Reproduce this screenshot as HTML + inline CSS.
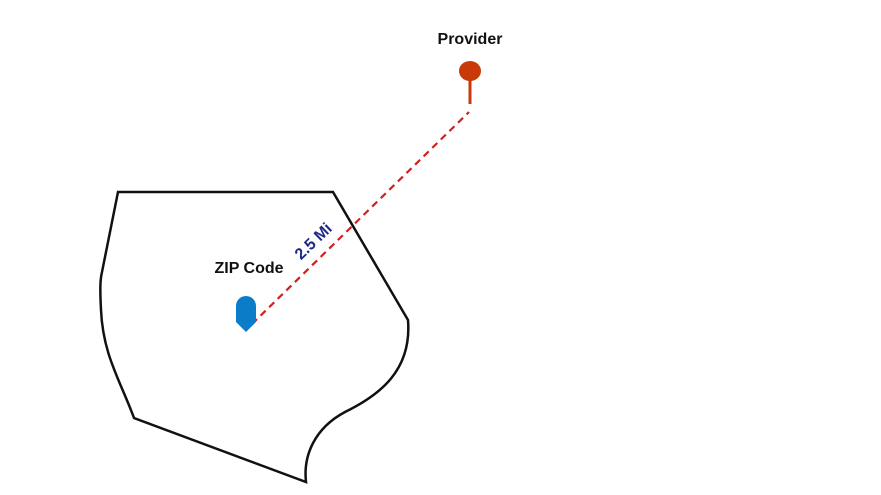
<!DOCTYPE html>
<html><head><style>body{margin:0;background:#fff}svg{display:block}</style></head><body>
<svg width="881" height="495" viewBox="0 0 881 495" xmlns="http://www.w3.org/2000/svg">
<path d="M118,192 L333,192 L408,320 C412,370 380,395 345,412 C315,428 303,455 306,482 L134,418 C120,380 103,355 101,310 C100,290 100,280 102,272 Z" fill="none" stroke="#111" stroke-width="2.5"/>
<line x1="252" y1="324" x2="469" y2="112" stroke="#d02020" stroke-width="2.2" stroke-dasharray="7,5"/>
<path d="M236,306 A10,10 0 0 1 256,306 L256,322 L246,332 L236,322 Z" fill="#0a7cc8"/>
<line x1="470" y1="78" x2="470" y2="104" stroke="#c83a0a" stroke-width="3"/>
<ellipse cx="470" cy="71" rx="11" ry="10" fill="#c83a0a"/>
<text x="470" y="44" font-family="Liberation Sans, sans-serif" font-weight="bold" font-size="16" text-anchor="middle" fill="#111">Provider</text>
<text x="249" y="273" font-family="Liberation Sans, sans-serif" font-weight="bold" font-size="16" text-anchor="middle" fill="#111">ZIP Code</text>
<text transform="translate(317,245) rotate(-44)" font-family="Liberation Sans, sans-serif" font-weight="bold" font-size="16" text-anchor="middle" fill="#1e2a8a">2.5 Mi</text>
</svg>
</body></html>
